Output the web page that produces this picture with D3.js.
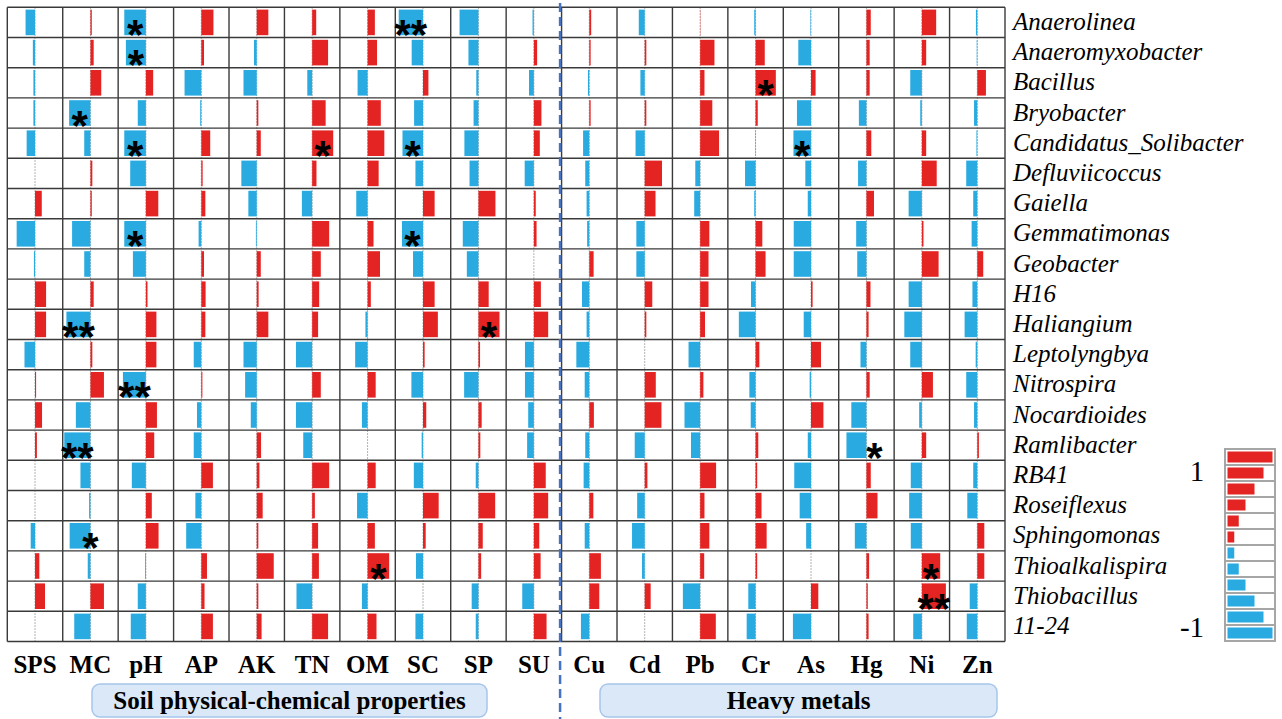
<!DOCTYPE html>
<html>
<head>
<meta charset="utf-8">
<script src="https://cdn.jsdelivr.net/npm/d3@7"></script>
<style>
  body { margin: 0; background: #fff; }
  svg { display: block; }
</style>
</head>
<body>
<svg id="chart" width="1282" height="719"></svg>
<script>
// variables (columns)
const variables = ["SPS", "MC", "pH", "AP", "AK", "TN", "OM", "SC", "SP", "SU",
  "Cu", "Cd", "Pb", "Cr", "As", "Hg", "Ni", "Zn"];
const soilVars = variables.slice(0, 10);
const metalVars = variables.slice(10);

// taxa (rows)
const taxa = ["Anaerolinea", "Anaeromyxobacter", "Bacillus", "Bryobacter",
  "Candidatus_Solibacter", "Defluviicoccus", "Gaiella", "Gemmatimonas",
  "Geobacter", "H16", "Haliangium", "Leptolyngbya", "Nitrospira",
  "Nocardioides", "Ramlibacter", "RB41", "Roseiflexus", "Sphingomonas",
  "Thioalkalispira", "Thiobacillus", "11-24"];

// correlation coefficients, one row per taxon, columns in `variables` order
const corr = [
  [-0.35, 0.05, -0.80, 0.45, 0.43, 0.15, 0.27, -0.90, -0.70, -0.05, 0.07, -0.22, 0.01, -0.05, -0.02, 0.16, 0.53, -0.05],
  [-0.08, 0.12, -0.74, 0.10, -0.10, 0.59, 0.35, -0.42, -0.37, 0.12, 0.05, 0.06, 0.53, 0.34, -0.47, 0.12, 0.16, -0.02],
  [-0.06, 0.40, 0.27, -0.62, -0.49, -0.18, -0.37, 0.20, -0.08, -0.18, -0.05, -0.16, 0.16, 0.75, 0.17, 0.12, -0.43, 0.32],
  [-0.06, -0.79, -0.30, -0.04, 0.06, 0.50, 0.49, -0.33, -0.18, 0.28, 0.05, 0.06, 0.45, 0.08, -0.52, -0.28, -0.06, -0.12],
  [-0.31, -0.23, -0.80, 0.33, 0.15, 0.78, 0.62, -0.76, -0.52, 0.22, -0.23, -0.34, 0.70, 0.01, -0.65, 0.18, 0.16, -0.03],
  [0.00, 0.07, -0.58, 0.05, -0.57, 0.16, 0.41, -0.28, -0.33, -0.34, -0.15, 0.64, -0.18, -0.39, -0.21, -0.31, 0.55, -0.41],
  [0.25, 0.05, 0.46, 0.15, -0.31, -0.38, -0.42, 0.43, 0.63, 0.07, -0.10, 0.40, -0.22, -0.05, -0.12, 0.28, -0.49, -0.15],
  [-0.68, -0.68, -0.80, -0.10, -0.03, 0.63, 0.22, -0.78, -0.58, 0.10, -0.08, -0.31, 0.34, 0.25, -0.64, -0.38, 0.06, -0.21],
  [-0.04, -0.23, -0.48, 0.10, 0.15, 0.32, 0.46, -0.37, -0.43, 0.00, 0.16, -0.31, 0.31, 0.37, -0.64, -0.34, 0.62, 0.22],
  [0.41, 0.12, 0.06, 0.16, 0.07, 0.26, 0.12, 0.43, 0.38, 0.26, -0.27, 0.28, 0.31, -0.17, 0.06, 0.15, -0.49, -0.18],
  [0.41, -0.89, 0.39, 0.15, 0.43, 0.22, -0.08, 0.55, 0.78, 0.53, -0.10, 0.06, 0.18, -0.62, -0.27, 0.08, -0.65, -0.47],
  [-0.39, 0.07, 0.39, -0.28, -0.49, -0.60, -0.46, 0.06, 0.06, -0.33, -0.48, 0.00, -0.43, 0.14, 0.37, -0.22, -0.43, -0.06],
  [0.04, 0.50, -0.85, 0.04, -0.43, 0.32, 0.30, -0.43, -0.53, -0.33, -0.17, 0.41, 0.12, -0.23, -0.05, 0.12, 0.41, -0.41],
  [0.26, -0.54, 0.41, -0.16, -0.22, -0.60, -0.21, 0.12, 0.12, -0.21, 0.17, 0.62, -0.58, -0.18, 0.46, -0.56, -0.10, -0.12],
  [0.07, -0.97, 0.31, -0.28, 0.16, -0.33, 0.00, -0.05, 0.07, -0.25, -0.15, -0.37, -0.34, 0.10, -0.12, -0.74, 0.16, 0.06],
  [0.00, -0.37, -0.52, 0.43, 0.10, 0.63, 0.30, -0.34, -0.10, 0.44, -0.21, 0.10, 0.59, 0.06, -0.62, 0.16, -0.41, -0.15],
  [0.00, -0.05, 0.22, -0.22, 0.22, 0.10, -0.39, 0.58, 0.62, 0.53, 0.15, -0.28, 0.16, 0.22, -0.42, 0.41, -0.47, -0.37],
  [-0.16, -0.77, 0.47, -0.56, 0.06, 0.22, 0.27, 0.10, 0.16, 0.20, -0.17, -0.47, 0.34, 0.41, -0.18, -0.43, -0.41, 0.26],
  [0.16, -0.10, -0.03, 0.21, 0.63, 0.25, 0.80, -0.26, 0.10, 0.25, 0.43, -0.10, 0.15, 0.06, 0.00, 0.10, 0.68, 0.26],
  [0.37, 0.50, -0.30, 0.12, 0.06, -0.58, -0.21, 0.00, -0.25, -0.43, 0.37, 0.22, -0.64, -0.27, 0.27, 0.05, 0.89, -0.28],
  [0.00, -0.60, -0.56, 0.43, 0.18, 0.59, 0.33, -0.28, -0.10, 0.47, -0.31, 0.00, 0.58, -0.33, -0.67, 0.08, -0.32, -0.39]
];

// significance marks: taxon, variable, mark, where the mark sits
const marks = [
  ["Anaerolinea", "pH", "*", "bar"], ["Anaerolinea", "SC", "**", "bar"],
  ["Anaeromyxobacter", "pH", "*", "bar"], ["Bacillus", "Cr", "*", "bar"],
  ["Bryobacter", "MC", "*", "bar"], ["Candidatus_Solibacter", "pH", "*", "bar"],
  ["Candidatus_Solibacter", "TN", "*", "bar"], ["Candidatus_Solibacter", "SC", "*", "bar"],
  ["Candidatus_Solibacter", "As", "*", "bar"], ["Gemmatimonas", "pH", "*", "bar"],
  ["Gemmatimonas", "SC", "*", "bar"], ["Haliangium", "MC", "**", "bar"],
  ["Haliangium", "SP", "*", "bar"], ["Nitrospira", "pH", "**", "bar"],
  ["Ramlibacter", "MC", "**", "bar"], ["Ramlibacter", "Hg", "*", "after"],
  ["Sphingomonas", "MC", "*", "axis"], ["Thioalkalispira", "OM", "*", "bar"],
  ["Thioalkalispira", "Ni", "*", "bar"], ["Thiobacillus", "Ni", "**", "bar"]
];

// colour key steps
const legendSteps = [1, 0.8, 0.6, 0.4, 0.25, 0.15, -0.15, -0.25, -0.4, -0.6, -0.8, -1];
const legendLabels = ["1", "-1"];

const RED = "#e42423";
const BLUE = "#29abe2";
const serif = "'Liberation Serif', 'Times New Roman', serif";

const svg = d3.select("#chart");
svg.append("rect").attr("width", 1282).attr("height", 719).attr("fill", "#fff");

const x = d3.scaleBand().domain(variables).range([7.3, 1005]);
const y = d3.scaleBand().domain(taxa).range([7.3, 641.5]);
const half = x.bandwidth() / 2;
const w = d3.scaleLinear().domain([-1, 1]).range([-27, 27]);
const cx = v => x(v) + half;

const cells = [];
taxa.forEach((t, i) => variables.forEach((v, j) => cells.push({ t, v, r: corr[i][j] })));

// dotted centre line of each column
svg.append("g").selectAll("line").data(variables).join("line")
  .attr("x1", cx).attr("x2", cx)
  .attr("y1", y.range()[0]).attr("y2", y.range()[1])
  .attr("stroke", "#9a9a9a").attr("stroke-width", 1)
  .attr("stroke-dasharray", "1.5,1.5");

// bars
svg.append("g").selectAll("rect").data(cells).join("rect")
  .attr("x", d => cx(d.v) + Math.min(0, w(d.r)))
  .attr("width", d => Math.max(Math.abs(w(d.r)), 0.01))
  .attr("y", d => y(d.t) + 2.3)
  .attr("height", y.bandwidth() - 4.6)
  .attr("fill", d => d.r >= 0 ? RED : BLUE);

// grid
const grid = svg.append("g").attr("stroke", "#3a3a3a").attr("stroke-width", 1.4);
const xEdges = variables.map(v => x(v)).concat([x.range()[1]]);
const yEdges = taxa.map(t => y(t)).concat([y.range()[1]]);
grid.selectAll(".v").data(xEdges).join("line").attr("class", "v")
  .attr("x1", d => d).attr("x2", d => d)
  .attr("y1", y.range()[0]).attr("y2", y.range()[1]);
grid.selectAll(".h").data(yEdges).join("line").attr("class", "h")
  .attr("y1", d => d).attr("y2", d => d)
  .attr("x1", x.range()[0]).attr("x2", x.range()[1]);

// significance marks
const starSize = 42;
svg.append("g").selectAll("text").data(marks).join("text")
  .attr("x", d => {
    const r = corr[taxa.indexOf(d[0])][variables.indexOf(d[1])];
    if (d[3] === "axis") return cx(d[1]);
    if (d[3] === "after") return cx(d[1]) + 8;
    return cx(d[1]) + w(r) / 2;
  })
  .attr("y", d => y(d[0]) + y.bandwidth() / 2 + 3 + starSize * 0.56)
  .attr("text-anchor", "middle")
  .attr("font-family", "'Liberation Sans', Arial, sans-serif")
  .attr("font-weight", "bold")
  .attr("font-size", starSize)
  .attr("fill", "#000")
  .text(d => d[2]);

// row labels
svg.append("g").selectAll("text").data(taxa).join("text")
  .attr("x", 1013)
  .attr("y", d => y(d) + y.bandwidth() / 2 + 7.5)
  .attr("font-family", serif).attr("font-style", "italic")
  .attr("font-size", 25).attr("fill", "#000")
  .text(d => d);

// column labels
svg.append("g").selectAll("text").data(variables).join("text")
  .attr("x", cx).attr("y", 673)
  .attr("text-anchor", "middle")
  .attr("font-family", serif).attr("font-weight", "bold")
  .attr("font-size", 25).attr("fill", "#000")
  .text(d => d);

// group boxes
const groups = [
  { name: "Soil physical-chemical properties", x0: 92, x1: 487 },
  { name: "Heavy metals", x0: 600, x1: 997 }
];
const gb = svg.append("g").selectAll("g").data(groups).join("g");
gb.append("rect")
  .attr("x", d => d.x0).attr("width", d => d.x1 - d.x0)
  .attr("y", 684).attr("height", 33).attr("rx", 8)
  .attr("fill", "#dbe8f7").attr("stroke", "#a8c6ea").attr("stroke-width", 1.5);
gb.append("text")
  .attr("x", d => (d.x0 + d.x1) / 2).attr("y", 709)
  .attr("text-anchor", "middle")
  .attr("font-family", serif).attr("font-weight", "bold")
  .attr("font-size", 25).attr("fill", "#000")
  .text(d => d.name);

// divider between soil properties and metals
const divX = x(metalVars[0]) - 1.5;
svg.append("line")
  .attr("x1", divX).attr("x2", divX).attr("y1", 3).attr("y2", 719)
  .attr("stroke", "#4472c4").attr("stroke-width", 2.5)
  .attr("stroke-dasharray", "9,5");

// colour key
const lx = 1225, lw = 50;
const ly = d3.scaleBand().domain(d3.range(legendSteps.length)).range([449, 641]);
const lbar = d3.scaleLinear().domain([0, 1]).range([0, lw - 5]);
const key = svg.append("g");
key.selectAll("rect.cell").data(legendSteps).join("rect").attr("class", "cell")
  .attr("x", lx).attr("width", lw)
  .attr("y", (d, i) => ly(i)).attr("height", ly.bandwidth())
  .attr("fill", "#fff").attr("stroke", "#a6a6a6").attr("stroke-width", 2);
key.selectAll("rect.bar").data(legendSteps).join("rect").attr("class", "bar")
  .attr("x", lx + 2.5).attr("width", d => lbar(Math.abs(d)))
  .attr("y", (d, i) => ly(i) + 2.5).attr("height", ly.bandwidth() - 5)
  .attr("fill", d => d > 0 ? RED : BLUE);
key.selectAll("text").data(legendLabels).join("text")
  .attr("x", (d, i) => i === 0 ? 1197 : 1192)
  .attr("y", (d, i) => i === 0 ? 481 : 637)
  .attr("text-anchor", "middle")
  .attr("font-family", serif).attr("font-size", 29).attr("fill", "#000")
  .text(d => d);
</script>
</body>
</html>
